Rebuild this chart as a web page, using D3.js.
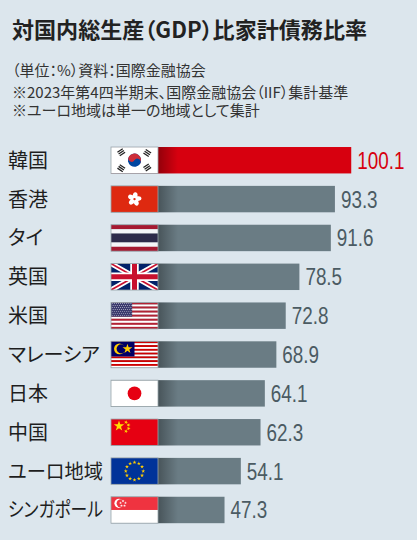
<!DOCTYPE html>
<html>
<head>
<meta charset="utf-8">
<script src="https://cdn.jsdelivr.net/npm/d3@7"></script>
<style>
  html, body { margin: 0; padding: 0; background: #fff; }
  svg { display: block; font-family: "Noto Sans CJK JP", "Noto Sans", sans-serif; font-feature-settings: "palt"; }
</style>
</head>
<body>
<svg id="chart" width="417" height="550"></svg>
<script>
// data
const countries = ["韓国", "香港", "タイ", "英国", "米国", "マレーシア", "日本", "中国", "ユーロ地域", "シンガポール"];
const flags = ["kr", "hk", "th", "gb", "us", "my", "jp", "cn", "eu", "sg"];
const values = [100.1, 93.3, 91.6, 78.5, 72.8, 68.9, 64.1, 62.3, 54.1, 47.3];
const notes = [
  "（単位：%）資料：国際金融協会",
  "※2023年第4四半期末、国際金融協会（IIF）集計基準",
  "※ユーロ地域は単一の地域として集計"
];

const W = 417, H = 550;
const FLAG_W = 47;
const BG = "#dce6ed";
const GREY = "#6a7c84";
const RED = "#d7000f";

const svg = d3.select("#chart");
const defs = svg.append("defs");

svg.append("rect").attr("width", W).attr("height", 540).attr("fill", BG);

svg.append("text")
  .attr("x", 12).attr("y", 38)
  .attr("font-size", 22).attr("font-weight", 700).attr("fill", "#222")
  .attr("textLength", 355).attr("lengthAdjust", "spacingAndGlyphs")
  .text("対国内総生産（GDP）比家計債務比率");

svg.selectAll(".note")
  .data(notes)
  .enter().append("text")
    .attr("class", "note")
    .attr("x", 12)
    .attr("y", (d, i) => [76, 98, 116][i])
    .attr("font-size", 15).attr("fill", "#333")
    .text(d => d);

const x = d3.scaleLinear().domain([0, 100]).range([111, 351]);
const y = d3.scaleBand().domain(countries).range([140.8, 529.4]).paddingInner(0.32).paddingOuter(0.16);
const bh = y.bandwidth();

// shadow next to the flag
const grad = defs.append("linearGradient").attr("id", "shade").attr("x1", 0).attr("x2", 1).attr("y1", 0).attr("y2", 0);
grad.append("stop").attr("offset", 0).attr("stop-color", "#000").attr("stop-opacity", 0.32);
grad.append("stop").attr("offset", 1).attr("stop-color", "#000").attr("stop-opacity", 0);

const star = d3.symbol().type(d3.symbolStar);

function stripes(f, w, h, n, c1, c2) {
  d3.range(n).forEach(k => {
    f.append("rect").attr("x", 0).attr("y", k * h / n).attr("width", w).attr("height", h / n + 0.2)
      .attr("fill", k % 2 ? c2 : c1);
  });
}

function starAt(f, cx, cy, size, color, rot) {
  f.append("path").attr("d", star.size(size)())
    .attr("transform", `translate(${cx},${cy}) rotate(${rot || 0})`)
    .attr("fill", color);
}

const drawFlag = {
  kr(f, w, h) {
    f.append("rect").attr("width", w).attr("height", h).attr("fill", "#fff");
    const cx = w / 2, cy = h / 2, r = 6.6;
    const t = f.append("g").attr("transform", `translate(${cx},${cy}) rotate(33)`);
    t.append("circle").attr("r", r).attr("fill", "#0047a0");
    t.append("path").attr("d", `M${-r},0 A${r},${r} 0 0 1 ${r},0 Z`).attr("fill", "#cd2e3a");
    t.append("circle").attr("cx", -r / 2).attr("r", r / 2).attr("fill", "#cd2e3a");
    t.append("circle").attr("cx", r / 2).attr("r", r / 2).attr("fill", "#0047a0");
    [[-1, -1], [1, -1], [-1, 1], [1, 1]].forEach(([sx, sy]) => {
      const tg = f.append("g").attr("transform", `translate(${cx + sx * 13},${cy + sy * 7.6}) rotate(${sx * sy * 56})`);
      d3.range(3).forEach(k => {
        tg.append("rect").attr("x", -1.1 - 2.1 + k * 2.1).attr("y", -3.2).attr("width", 1.3).attr("height", 6.4).attr("fill", "#222");
      });
    });
  },
  hk(f, w, h) {
    f.append("rect").attr("width", w).attr("height", h).attr("fill", "#de2910");
    const p = f.append("g").attr("transform", `translate(${w / 2},${h / 2})`);
    d3.range(5).forEach(k => {
      p.append("ellipse").attr("cx", 0).attr("cy", -3.4).attr("rx", 2.4).attr("ry", 3.6)
        .attr("transform", `rotate(${k * 72 + 10})`).attr("fill", "#fff");
    });
    p.append("circle").attr("r", 1.2).attr("fill", "#de2910");
  },
  th(f, w, h) {
    const parts = [[0, 1, "#a51931"], [1, 1, "#f4f5f8"], [2, 2, "#2d2a4a"], [4, 1, "#f4f5f8"], [5, 1, "#a51931"]];
    parts.forEach(([s, n, c]) => {
      f.append("rect").attr("y", s * h / 6).attr("width", w).attr("height", n * h / 6 + 0.2).attr("fill", c);
    });
  },
  gb(f, w, h) {
    f.append("rect").attr("width", w).attr("height", h).attr("fill", "#012169");
    f.append("path").attr("d", `M0,0L${w},${h}M${w},0L0,${h}`).attr("stroke", "#fff").attr("stroke-width", 5.2);
    f.append("path").attr("d", `M0,0L${w},${h}M${w},0L0,${h}`).attr("stroke", "#c8102e").attr("stroke-width", 1.7);
    f.append("path").attr("d", `M${w / 2},0V${h}M0,${h / 2}H${w}`).attr("stroke", "#fff").attr("stroke-width", 8.5);
    f.append("path").attr("d", `M${w / 2},0V${h}M0,${h / 2}H${w}`).attr("stroke", "#c8102e").attr("stroke-width", 5);
  },
  us(f, w, h) {
    stripes(f, w, h, 13, "#b22234", "#fff");
    const cw = w * 0.45, ch = h * 7 / 13;
    f.append("rect").attr("width", cw).attr("height", ch).attr("fill", "#3c3b6e");
    for (let r = 0; r < 7; r++) for (let c = 0; c < 10; c++) {
      f.append("circle").attr("cx", 1.2 + c * (cw - 2.4) / 9 + (r % 2 ? 0.9 : 0)).attr("cy", 1.1 + r * (ch - 2.2) / 6)
        .attr("r", 0.45).attr("fill", "#fff");
    }
  },
  my(f, w, h) {
    stripes(f, w, h, 14, "#cc0001", "#fff");
    const cw = w / 2, ch = h * 8 / 14;
    f.append("rect").attr("width", cw).attr("height", ch).attr("fill", "#010066");
    f.append("circle").attr("cx", cw * 0.36).attr("cy", ch / 2).attr("r", ch * 0.36).attr("fill", "#fc0");
    f.append("circle").attr("cx", cw * 0.43).attr("cy", ch / 2).attr("r", ch * 0.3).attr("fill", "#010066");
    starAt(f, cw * 0.7, ch / 2, 30, "#fc0");
  },
  jp(f, w, h) {
    f.append("rect").attr("width", w).attr("height", h).attr("fill", "#fff");
    f.append("circle").attr("cx", w / 2).attr("cy", h / 2).attr("r", h * 0.26).attr("fill", "#e60012");
  },
  cn(f, w, h) {
    f.append("rect").attr("width", w).attr("height", h).attr("fill", "#e60012");
    starAt(f, 8, 7, 34, "#ffde00");
    [[15, 3.2], [17.5, 6], [17.5, 9.5], [15, 12.3]].forEach(([sx, sy]) => starAt(f, sx, sy, 5, "#ffde00", 20));
  },
  eu(f, w, h) {
    f.append("rect").attr("width", w).attr("height", h).attr("fill", "#003399");
    d3.range(12).forEach(k => {
      const a = k * Math.PI / 6;
      starAt(f, w / 2 + Math.sin(a) * h * 0.33, h / 2 - Math.cos(a) * h * 0.33, 5, "#ffcc00");
    });
  },
  sg(f, w, h) {
    f.append("rect").attr("width", w).attr("height", h).attr("fill", "#fff");
    f.append("rect").attr("width", w).attr("height", h / 2).attr("fill", "#ef3340");
    f.append("circle").attr("cx", 8).attr("cy", h / 4).attr("r", 4.6).attr("fill", "#fff");
    f.append("circle").attr("cx", 9.8).attr("cy", h / 4).attr("r", 4.2).attr("fill", "#ef3340");
    d3.range(5).forEach(k => {
      const a = k * 2 * Math.PI / 5;
      starAt(f, 12 + Math.sin(a) * 2.6, h / 4 - Math.cos(a) * 2.6 + 0.3, 2.6, "#fff");
    });
  }
};

const rows = svg.selectAll(".row")
  .data(countries)
  .enter().append("g")
    .attr("class", "row")
    .attr("transform", d => `translate(0,${y(d)})`);

rows.append("text")
  .attr("x", 8).attr("y", bh / 2 + 7.5)
  .attr("font-size", 20).attr("fill", "#1e1e1e")
  .text(d => d)
  .each(function() {
    // kana in the reference are set narrow; keep long labels clear of the flag
    if (this.getComputedTextLength() > 95) {
      d3.select(this).attr("textLength", 95).attr("lengthAdjust", "spacingAndGlyphs");
    }
  });

rows.append("rect")
  .attr("x", x(0)).attr("y", 0)
  .attr("width", (d, i) => x(values[i]) - x(0))
  .attr("height", bh)
  .attr("fill", (d, i) => i === 0 ? RED : GREY);

rows.append("rect")
  .attr("x", x(0) + FLAG_W).attr("y", 0)
  .attr("width", 20).attr("height", bh)
  .attr("fill", "url(#shade)");

rows.append("text")
  .attr("transform", (d, i) => `translate(${x(values[i]) + 6},${bh / 2 + 8.5}) scale(0.82,1)`)
  .attr("font-family", "'Liberation Sans', Arial, sans-serif")
  .attr("font-size", 23)
  .attr("fill", (d, i) => i === 0 ? RED : "#4b5b63")
  .text((d, i) => values[i].toFixed(1));

rows.each(function(d, i) {
  const g = d3.select(this).append("g").attr("transform", `translate(${x(0)},0)`);
  const w = FLAG_W, h = bh;
  const cid = "clip" + i;
  defs.append("clipPath").attr("id", cid).append("rect").attr("width", w).attr("height", h);
  const f = g.append("g").attr("clip-path", `url(#${cid})`);
  drawFlag[flags[i]](f, w, h);
  g.append("rect").attr("width", w).attr("height", h)
    .attr("fill", "none").attr("stroke", "#9aa5ab").attr("stroke-width", 0.8);
});
</script>
</body>
</html>
